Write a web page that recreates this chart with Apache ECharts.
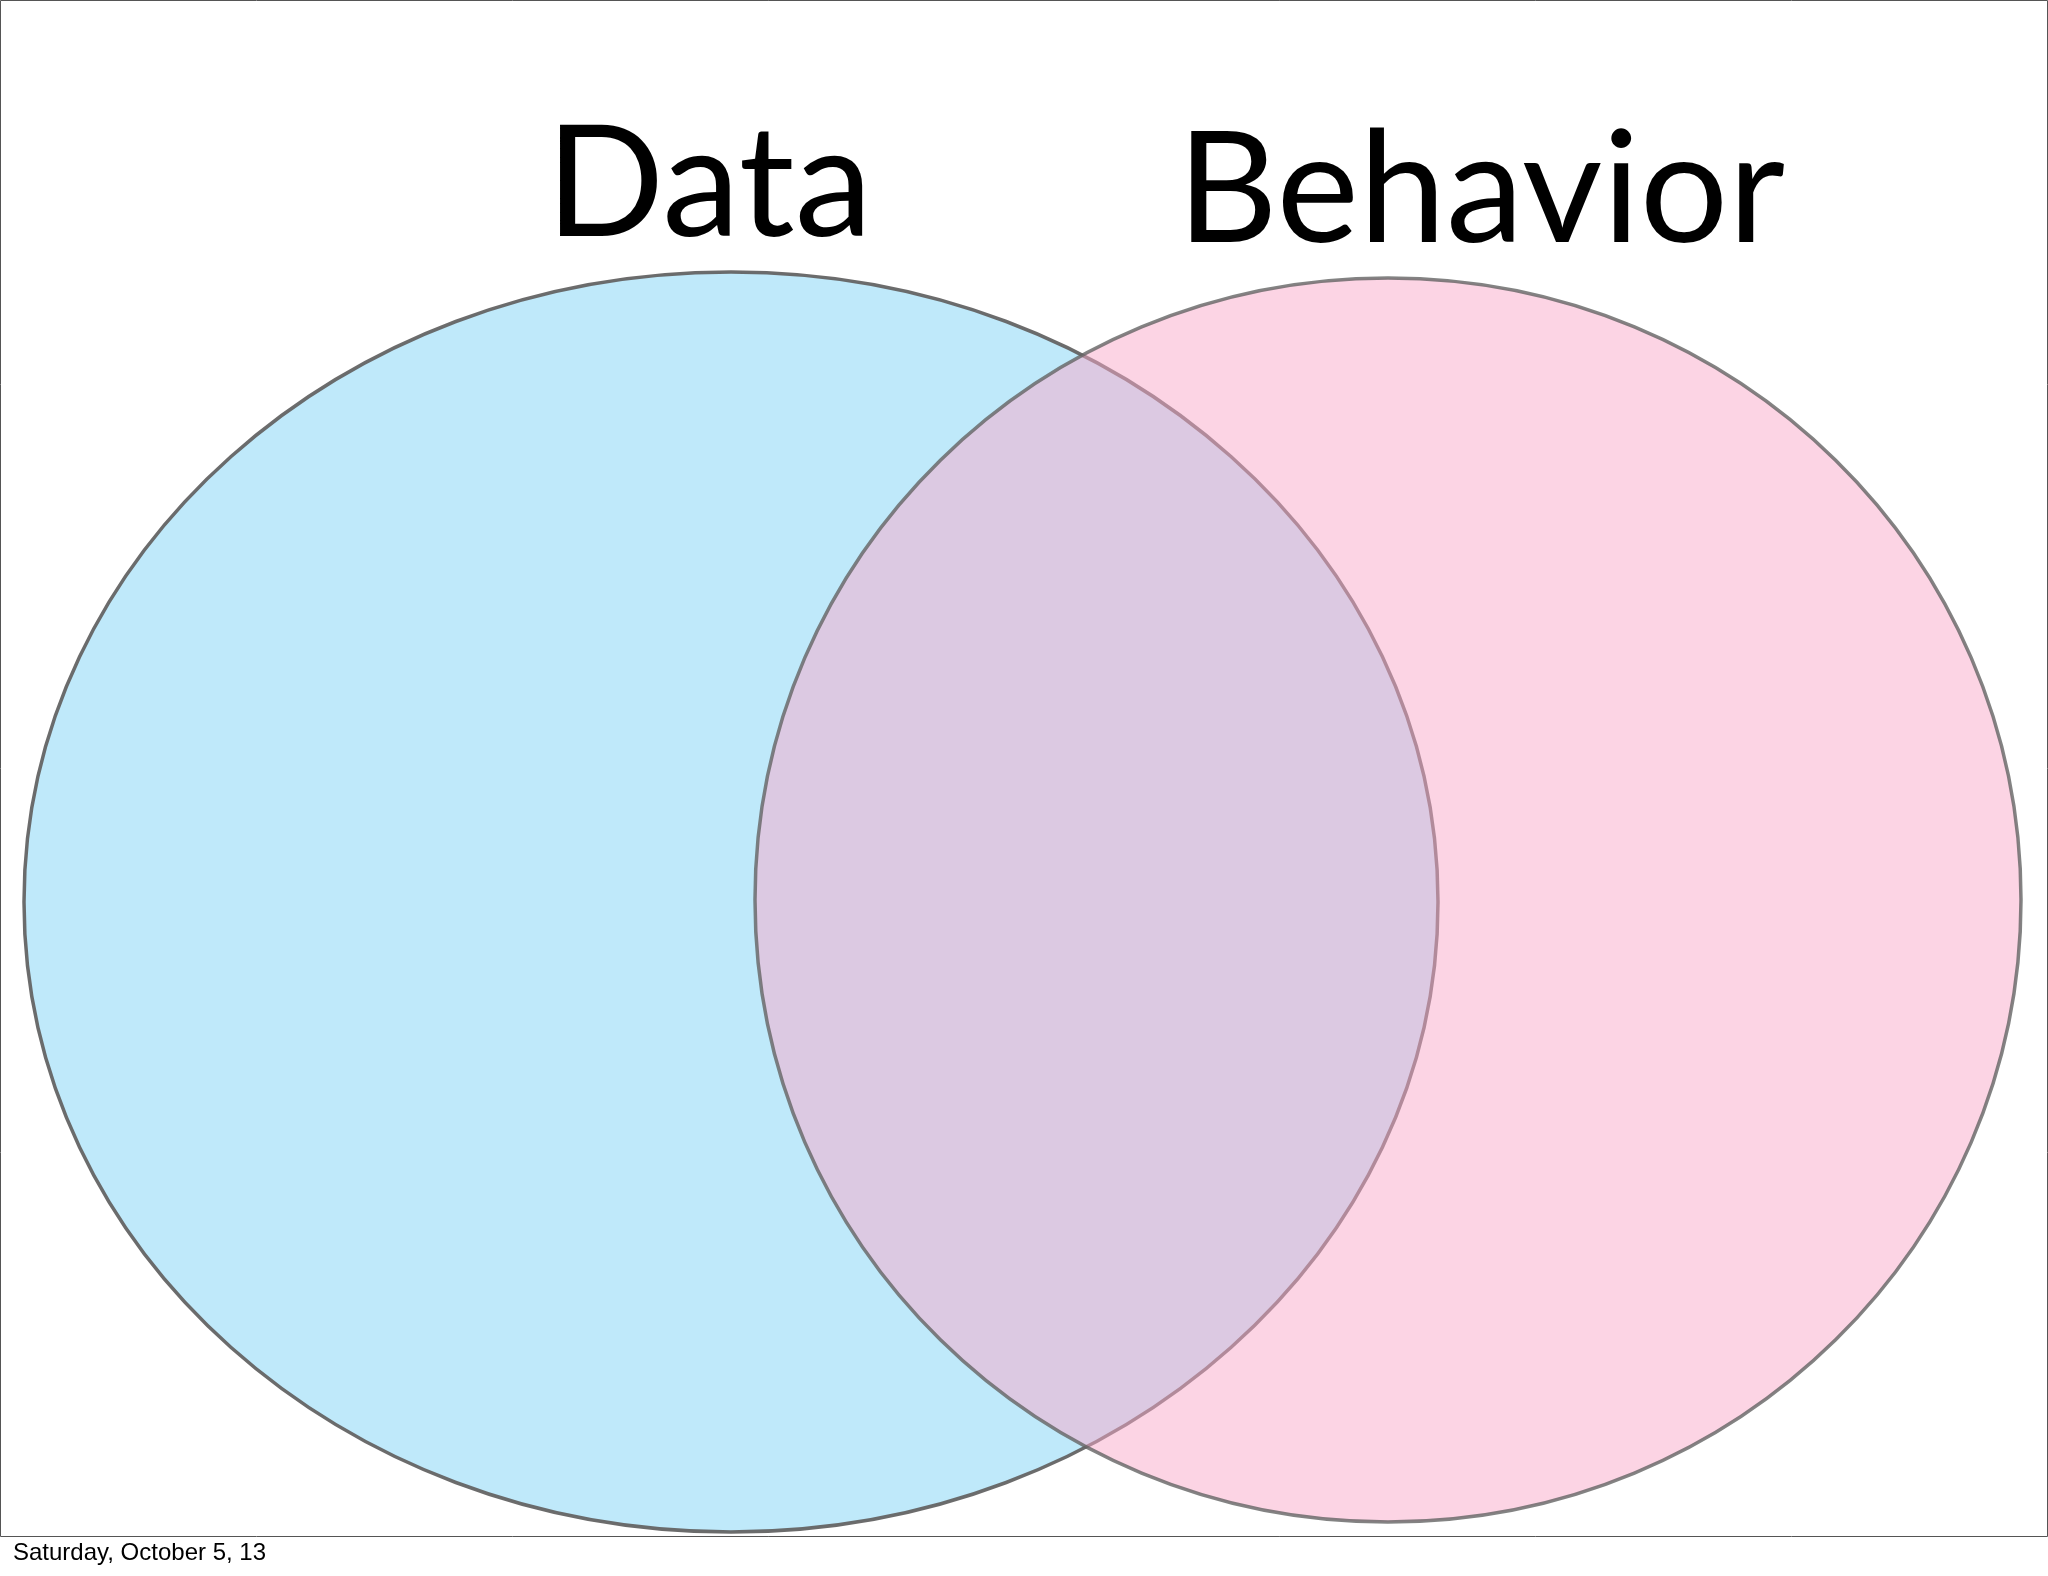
<!DOCTYPE html>
<html><head><meta charset="utf-8">
<script src="https://cdn.jsdelivr.net/npm/echarts@6/dist/echarts.min.js"></script>
<style>html,body{margin:0;padding:0;background:#fff}#c{width:2048px;height:1576px}</style>
</head><body><div id="c"></div>
<script>
const setNames = ["Data", "Behavior"];
const centerX = [731, 1388];
const centerY = [902, 900];
const radiusX = [707, 633];
const radiusY = [630, 622];
const footer = "Saturday, October 5, 13";

const fills = ['rgba(191,233,250,1)', 'rgba(249,169,201,0.5)'];
const strokes = ['rgba(100,100,100,0.95)', 'rgba(100,100,100,0.8)'];

const chart = echarts.init(document.getElementById('c'));
chart.setOption({
  animation: false,
  grid: {left: 0, right: 0, top: 0, bottom: 0},
  xAxis: {type: 'value', min: 0, max: 2048, show: false},
  yAxis: {type: 'value', min: 0, max: 1576, inverse: true, show: false},
  graphic: [
    {type: 'rect', shape: {x: 0.5, y: 0.5, width: 2047, height: 1536}, style: {fill: 'none', stroke: '#555', lineWidth: 1}, z: 10},
    {type: 'text', left: 13, top: 1541, style: {text: footer, font: '24px "Liberation Sans", Arial', fill: '#000'}, z: 10}
  ],
  series: [
    {
      type: 'custom',
      coordinateSystem: 'cartesian2d',
      data: setNames.map((n, i) => [centerX[i], centerY[i], radiusX[i], radiusY[i], i]),
      renderItem: function (params, api) {
        const c = api.coord([api.value(0), api.value(1)]);
        const s = api.size([api.value(2), api.value(3)]);
        const i = api.value(4);
        const top = api.coord([api.value(0), api.value(1) - api.value(3)]);
        return {
          type: 'group',
          children: [
            {type: 'ellipse', shape: {cx: c[0], cy: c[1], rx: s[0], ry: s[1]},
              style: {fill: fills[i], stroke: strokes[i], lineWidth: 3.5}, z2: i},
            {type: 'text', x: c[0] + (i === 0 ? -22 : 93), y: top[1] - 8,
              style: {text: setNames[i], font: '156px Lato, "Noto Sans", sans-serif', fill: '#000',
                align: 'center', verticalAlign: 'bottom'}, z2: 5}
          ]
        };
      }
    }
  ]
});
</script></body></html>
